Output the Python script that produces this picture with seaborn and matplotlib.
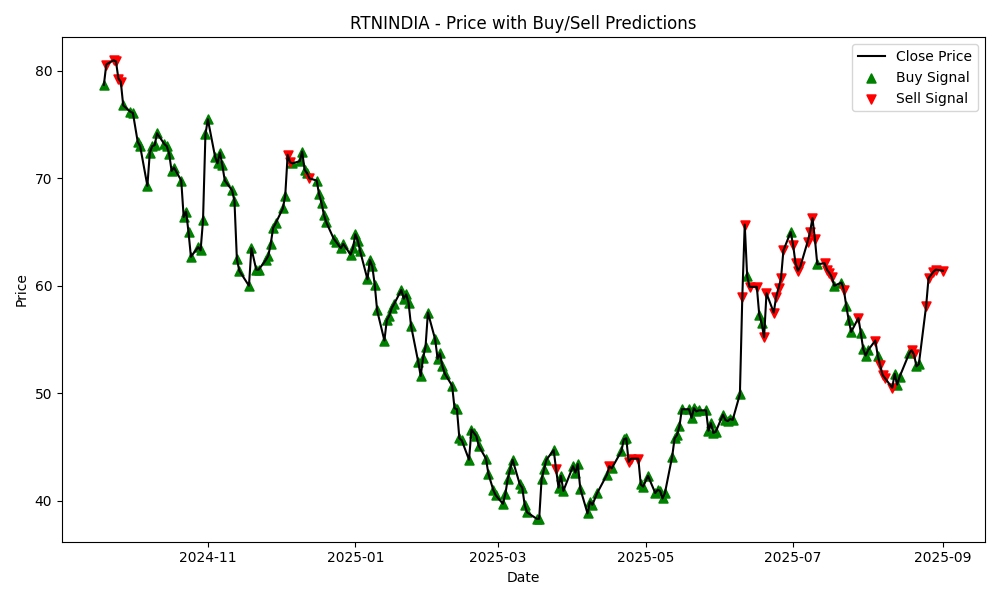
import matplotlib
matplotlib.use("Agg")
import matplotlib.pyplot as plt
import seaborn as sns
import pandas as pd
import numpy as np

# NSE trading holidays within the window
holidays = ["2024-10-02", "2024-11-15", "2024-11-20", "2024-12-25",
            "2025-02-26", "2025-03-14", "2025-03-31", "2025-04-10",
            "2025-04-14", "2025-04-18", "2025-05-01", "2025-08-15",
            "2025-08-27"]
start_date = "2024-09-19"
end_date = "2025-09-01"

close_sep24 = [78.7, 80.6, 81.0, 80.9, 79.3, 79.0, 76.8, 76.2]
close_oct24 = [76.1, 73.4, 73.0, 69.3, 72.4, 73.0, 73.1, 74.2, 73.2, 73.0, 72.3,
               70.7, 71.0, 69.8, 66.4, 66.9, 65.0, 62.7, 63.6, 63.3, 66.1, 74.1]
close_nov24 = [75.5, 72.0, 71.4, 72.4, 71.2, 69.8, 68.9, 67.9, 62.5, 61.4, 60.0,
               63.5, 61.5, 61.5, 62.4, 62.8, 63.9, 65.4, 65.8]
close_dec24 = [67.2, 68.4, 72.2, 71.5, 71.4, 71.6, 72.5, 70.8, 70.5, 70.0, 69.8,
               68.5, 67.7, 66.6, 65.9, 64.4, 64.1, 63.5, 63.9, 62.9, 63.5]
close_jan25 = [64.8, 64.2, 63.2, 60.6, 62.4, 61.8, 60.1, 57.7, 54.9, 56.8, 57.2,
               57.9, 58.3, 59.6, 58.8, 59.2, 58.4, 56.3, 52.9, 51.6, 53.3, 54.3, 57.5]
close_feb25 = [55.0, 53.2, 53.7, 52.5, 51.8, 50.7, 48.6, 48.5, 45.8, 45.6, 43.8,
               46.6, 46.3, 46.0, 45.1, 43.9, 42.5, 41.0, 40.5]
close_mar25 = [39.7, 40.6, 42.0, 42.9, 43.8, 41.5, 41.2, 39.6, 38.9, 38.3, 38.3,
               42.0, 42.9, 43.8, 44.7, 42.9, 41.2, 42.3, 40.9]
close_apr25 = [43.2, 42.6, 43.4, 41.1, 38.8, 39.9, 39.6, 40.7, 42.4, 43.2, 43.0,
               44.6, 45.7, 45.8, 43.6, 43.9, 43.9, 41.5, 41.3]
close_may25 = [42.3, 40.7, 41.0, 40.9, 40.2, 40.7, 44.1, 45.8, 46.1, 46.9, 48.5,
               48.5, 47.7, 48.6, 48.3, 48.4, 48.4, 46.5, 47.2, 46.3, 46.4]
close_jun25 = [48.0, 47.5, 47.4, 47.6, 47.5, 49.9, 59.0, 65.7, 60.9, 59.9, 59.9,
               57.3, 56.5, 55.2, 59.3, 57.5, 59.0, 59.8, 60.7, 63.3, 65.0]
close_jul25 = [63.8, 62.1, 61.4, 61.8, 64.1, 65.0, 66.3, 64.4, 62.0, 62.1, 61.5,
               61.2, 60.8, 60.0, 60.3, 59.6, 58.1, 56.8, 55.7, 57.0, 55.6, 54.1, 53.5]
close_aug25 = [54.0, 54.9, 53.5, 52.6, 51.7, 51.4, 50.5, 51.8, 50.8, 51.5, 53.7,
               54.0, 53.6, 52.5, 52.7, 58.1, 60.7, 61.3, 61.5]
close_sep25 = [61.4]

# B = buy prediction, S = sell prediction
signal_sep24 = "BSSSSSBB"
signal_oct24 = "BBBBBBBBBBBBBBBBBBBBBB"
signal_nov24 = "BBBBBBBBBBBBBBBBBBB"
signal_dec24 = "BBSSBBBBBSBBBBBBBBBBB"
signal_jan25 = "BBBBBBBBBBBBBBBBBBBBBBB"
signal_feb25 = "BBBBBBBBBBBBBBBBBBB"
signal_mar25 = "BBBBBBBBBBBBBBBSBBB"
signal_apr25 = "BBBBBBBBBSBBBBSSSBB"
signal_may25 = "BBBBBBBBBBBBBBBBBBBBB"
signal_jun25 = "BBBBBBSSBSSBBSSSSSSSB"
signal_jul25 = "SSSSSSSSBSSSSBBSBBBSBBB"
signal_aug25 = "BSBSSSSBBBBSSBBSSSS"
signal_sep25 = "S"

close = (close_sep24 + close_oct24 + close_nov24 + close_dec24 + close_jan25 +
         close_feb25 + close_mar25 + close_apr25 + close_may25 + close_jun25 +
         close_jul25 + close_aug25 + close_sep25)
signals = list(signal_sep24 + signal_oct24 + signal_nov24 + signal_dec24 +
               signal_jan25 + signal_feb25 + signal_mar25 + signal_apr25 +
               signal_may25 + signal_jun25 + signal_jul25 + signal_aug25 +
               signal_sep25)

dates = pd.bdate_range(start_date, end_date, freq="C", holidays=holidays)
n = min(len(dates), len(close), len(signals))
df = pd.DataFrame({"Date": dates[:n], "Close": close[:n], "Signal": signals[:n]})
buy = df[df["Signal"] == "B"]
sell = df[df["Signal"] == "S"]

fig, ax = plt.subplots(figsize=(10, 6), dpi=100)
sns.lineplot(data=df, x="Date", y="Close", color="black", label="Close Price",
             ax=ax, linewidth=1.5, zorder=2)
sns.scatterplot(data=buy, x="Date", y="Close", marker="^", color="green",
                label="Buy Signal", ax=ax, s=40, linewidth=1.2,
                edgecolor="green", zorder=1)
sns.scatterplot(data=sell, x="Date", y="Close", marker="v", color="red",
                label="Sell Signal", ax=ax, s=40, linewidth=1.2,
                edgecolor="red", zorder=1)

ax.set_title("RTNINDIA - Price with Buy/Sell Predictions")
ax.set_xlabel("Date")
ax.set_ylabel("Price")
ax.legend(loc="upper right")
plt.tight_layout()
fig.savefig("out.png", dpi=100)
